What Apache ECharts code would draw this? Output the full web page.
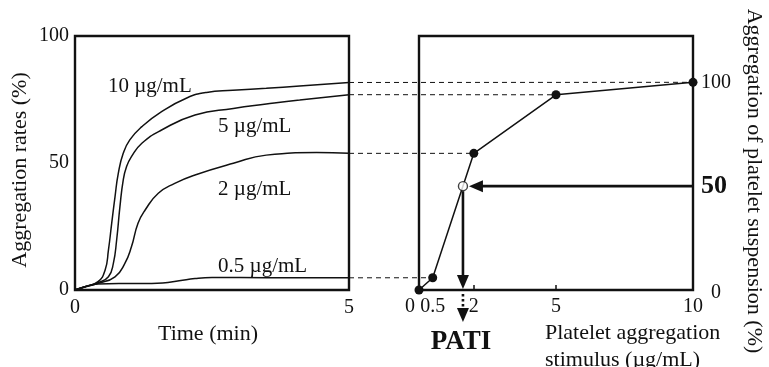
<!DOCTYPE html>
<html>
<head>
<meta charset="utf-8">
<script src="https://cdn.jsdelivr.net/npm/echarts@6/dist/echarts.min.js"></script>
<style>
  html, body { margin: 0; padding: 0; background: #fff; }
  #chart { width: 769px; height: 367px; }
</style>
</head>
<body>
<div id="chart"></div>
<script>
// ---- Aggregation curves: time (min) vs aggregation rate (%) ----
const time10 = [0, 0.18, 0.42, 0.55, 0.61, 0.67, 0.73, 0.79, 0.88, 1.00, 1.22, 1.58, 2.04, 2.40, 2.88, 3.49, 4.10, 5.00];
const rate10 = [0, 1.3, 3.3, 7.9, 15.7, 26.3, 36.7, 45.9, 53.8, 59.1, 64.3, 70.2, 75.6, 77.8, 78.6, 79.4, 80.3, 81.7];

const time5 = [0, 0.18, 0.42, 0.61, 0.70, 0.76, 0.82, 0.88, 0.94, 1.03, 1.22, 1.58, 2.19, 2.89, 3.49, 4.10, 5.00];
const rate5 = [0, 1.3, 2.9, 5.2, 10.5, 19.7, 32.8, 43.3, 48.5, 52.5, 57.8, 63.0, 68.9, 71.5, 73.2, 74.8, 76.9];

const time2 = [0, 0.18, 0.42, 0.73, 0.91, 1.03, 1.15, 1.28, 1.52, 1.82, 2.19, 2.89, 3.49, 4.41, 5.00];
const rate2 = [0, 1.2, 2.6, 5.2, 10.5, 17.0, 26.3, 31.5, 38.1, 42.0, 45.3, 49.9, 53.1, 54.1, 53.8];

const time05 = [0, 0.18, 0.42, 0.80, 1.20, 1.60, 1.90, 2.19, 2.50, 3.00, 4.00, 5.00];
const rate05 = [0, 1.3, 2.4, 2.6, 2.6, 2.8, 3.6, 4.5, 4.9, 4.9, 4.8, 4.8];

const curveNames = ['10 µg/mL', '5 µg/mL', '2 µg/mL', '0.5 µg/mL'];
const curveDoses = [10, 5, 2, 0.5];

// ---- Dose-response: stimulus (µg/mL) vs aggregation of suspension (%) ----
const doses = [0, 0.5, 2, 5, 10];
const relAggregation = [0, 5.9, 65.8, 94.0, 100];

// ---- Tick labels ----
const timeTicks = [0, 5];
const rateTicks = [0, 50, 100];
const doseTicks = [0, 0.5, 2, 5, 10];
const doseTickMarks = [2, 5];
const relTicks = [0, 50, 100];
const halfLevel = 50;

// ---- Layout / styling ----
const FONT = '"Liberation Serif", "Times New Roman", "DejaVu Serif", serif';
const INK = '#111';
// where each curve's caption sits (time, rate) in the left panel
const captionAnchors = [[0.60, 80.3], [2.61, 64.2], [2.61, 39.4], [2.61, 9.4]];

const zip = (xs, ys) => xs.map((x, i) => [x, ys[i]]);
const curves = [zip(time10, rate10), zip(time5, rate5), zip(time2, rate2), zip(time05, rate05)];

// stimulus at which the dose-response line crosses the half level
function halfStimulus() {
  for (let i = 1; i < doses.length; i++) {
    const a = relAggregation[i - 1], b = relAggregation[i];
    if (a <= halfLevel && b >= halfLevel) {
      return doses[i - 1] + (doses[i] - doses[i - 1]) * (halfLevel - a) / (b - a);
    }
  }
  return null;
}
const pati = halfStimulus();

const chart = echarts.init(document.getElementById('chart'), null, { renderer: 'canvas' });

const labelStyle = { fontFamily: FONT, fontSize: 20, color: INK };
const nameStyle = { fontFamily: FONT, fontSize: 22, color: INK };

const option = {
  animation: false,
  backgroundColor: '#fff',
  textStyle: { fontFamily: FONT, color: INK },
  grid: [
    { left: 75, top: 36, width: 274, height: 254, show: true, borderColor: INK, borderWidth: 2.4, backgroundColor: 'transparent' },
    { left: 419, top: 36, width: 274, height: 254, show: true, borderColor: INK, borderWidth: 2.4, backgroundColor: 'transparent' }
  ],
  xAxis: [
    {
      gridIndex: 0, type: 'value', min: 0, max: 5,
      axisLine: { show: false }, axisTick: { show: false }, splitLine: { show: false },
      axisLabel: Object.assign({ margin: 8, customValues: timeTicks }, labelStyle),
      name: 'Time (min)', nameLocation: 'middle', nameGap: 28,
      nameTextStyle: Object.assign({ padding: [0, 8, 0, 0] }, nameStyle)
    },
    {
      gridIndex: 1, type: 'value', min: 0, max: 10,
      axisLine: { show: false }, splitLine: { show: false },
      axisTick: { show: true, inside: true, length: 5, customValues: doseTickMarks, lineStyle: { color: INK, width: 1.5 } },
      axisLabel: {
        margin: 7, customValues: doseTicks, alignMinLabel: 'right',
        formatter: v => v === 0 ? '{z|' + v + '}' : '{n|' + v + '}',
        rich: {
          z: { fontFamily: FONT, fontSize: 20, color: INK, padding: [0, 4, 0, 0] },
          n: { fontFamily: FONT, fontSize: 20, color: INK }
        }
      }
    }
  ],
  yAxis: [
    {
      gridIndex: 0, type: 'value', min: 0, max: 100,
      axisLine: { show: false }, axisTick: { show: false }, splitLine: { show: false },
      axisLabel: Object.assign({ margin: 6, customValues: rateTicks }, labelStyle),
      name: 'Aggregation rates (%)', nameLocation: 'middle', nameGap: 44, nameRotate: 90,
      nameTextStyle: Object.assign({ padding: [0, 14, 0, 0] }, nameStyle)
    },
    {
      gridIndex: 1, type: 'value', position: 'right', min: 0, max: 122.3,
      axisLine: { show: false }, axisTick: { show: false }, splitLine: { show: false },
      axisLabel: {
        margin: 8, customValues: relTicks,
        formatter: v => v === halfLevel ? '{b|' + v + '}' : (v === 0 ? '{z|' + v + '}' : '{n|' + v + '}'),
        rich: {
          b: { fontFamily: FONT, fontSize: 26, fontWeight: 'bold', color: INK },
          n: { fontFamily: FONT, fontSize: 20, color: INK },
          z: { fontFamily: FONT, fontSize: 20, color: INK, padding: [6, 0, 0, 10] }
        }
      },
      name: 'Aggregation of platelet suspension (%)', nameLocation: 'middle', nameGap: 50, nameRotate: -90,
      nameTextStyle: Object.assign({ padding: [0, 0, 0, 36] }, nameStyle)
    }
  ],
  series: [
    ...curves.map((data, i) => ({
      name: curveNames[i], type: 'line', xAxisIndex: 0, yAxisIndex: 0,
      data, smooth: 0.5, showSymbol: false, symbol: 'none',
      lineStyle: { color: INK, width: 1.5 }, z: 3
    })),
    {
      name: 'dose-response', type: 'line', xAxisIndex: 1, yAxisIndex: 1,
      data: zip(doses, relAggregation), symbol: 'circle', symbolSize: 9, clip: false,
      itemStyle: { color: INK }, lineStyle: { color: INK, width: 1.5 }, z: 4
    },
    {
      name: 'PATI', type: 'scatter', xAxisIndex: 1, yAxisIndex: 1,
      data: [[pati, halfLevel]], symbol: 'circle', symbolSize: 9, clip: false,
      itemStyle: { color: '#fff', borderColor: INK, borderWidth: 1.4 }, z: 6
    }
  ]
};

chart.setOption(option);

// ---- Overlay: captions, connectors, arrows (placed through the axes) ----
function arrowHead(tip, dir, len, half) {
  const bx = tip[0] - dir[0] * len, by = tip[1] - dir[1] * len;
  const nx = -dir[1], ny = dir[0];
  return {
    type: 'polygon', z: 120,
    shape: { points: [tip, [bx + nx * half, by + ny * half], [bx - nx * half, by - ny * half]] },
    style: { fill: INK }
  };
}

function overlay() {
  const P0 = p => chart.convertToPixel({ gridIndex: 0 }, p);
  const P1 = p => chart.convertToPixel({ gridIndex: 1 }, p);
  const els = [];

  // curve captions
  captionAnchors.forEach((a, i) => {
    const p = P0(a);
    els.push({
      type: 'text', x: p[0], y: p[1], z: 110,
      style: { text: curveNames[i], font: '21px ' + FONT, fill: INK, align: 'left', verticalAlign: 'middle' }
    });
  });

  // dashed connectors: end of each curve -> its dose-response point
  curves.forEach((c, i) => {
    const a = P0(c[c.length - 1]);
    const k = doses.indexOf(curveDoses[i]);
    const b = P1([doses[k], relAggregation[k]]);
    els.push({
      type: 'line', z: 100,
      shape: { x1: a[0], y1: a[1], x2: b[0] - 3, y2: b[1] },
      style: { stroke: INK, lineWidth: 1, lineDash: [5, 4] }
    });
  });

  const c = P1([pati, halfLevel]);
  const r = 5;
  const edge = P1([doses[doses.length - 1], halfLevel]);
  const base = P1([pati, 0]);

  // horizontal arrow from the 50 level to the half point
  const hTip = [c[0] + r + 1, c[1]];
  els.push({ type: 'line', z: 115, shape: { x1: edge[0], y1: c[1], x2: hTip[0] + 6, y2: c[1] }, style: { stroke: INK, lineWidth: 2.6 } });
  els.push(arrowHead(hTip, [-1, 0], 14, 6));

  // vertical arrow down to the stimulus axis
  const vTip = [c[0], base[1] - 1];
  els.push({ type: 'line', z: 115, shape: { x1: c[0], y1: c[1] + r, x2: c[0], y2: vTip[1] - 6 }, style: { stroke: INK, lineWidth: 2.6 } });
  els.push(arrowHead(vTip, [0, 1], 14, 6));

  // dotted continuation below the axis
  const dTip = [c[0], base[1] + 32];
  els.push({ type: 'line', z: 115, shape: { x1: c[0], y1: base[1] + 4, x2: c[0], y2: dTip[1] - 12 }, style: { stroke: INK, lineWidth: 2.6, lineDash: [2.5, 2.5] } });
  els.push(arrowHead(dTip, [0, 1], 14, 6));

  els.push({
    type: 'text', x: c[0] - 2, y: base[1] + 52, z: 120,
    style: { text: 'PATI', font: 'bold 27px ' + FONT, fill: INK, align: 'center', verticalAlign: 'middle' }
  });

  // stimulus axis title
  els.push({
    type: 'text', x: 545, y: 320, z: 110,
    style: { text: 'Platelet aggregation\nstimulus (µg/mL)', font: '22px ' + FONT, fill: INK, align: 'left', verticalAlign: 'top', lineHeight: 27 }
  });

  chart.setOption({ graphic: { elements: els } });
}
overlay();
</script>
</body>
</html>
